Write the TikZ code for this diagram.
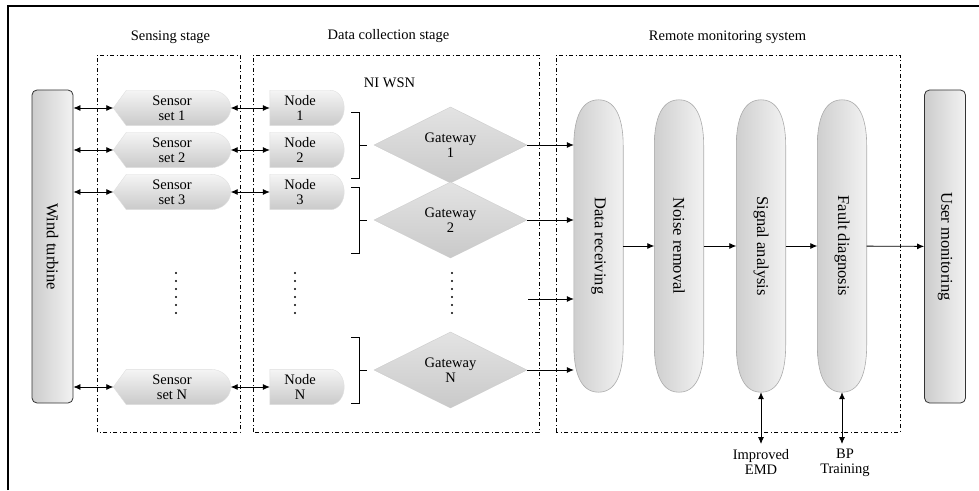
\documentclass[tikz,border=0pt]{standalone}
\usepackage{fontspec}
\setmainfont{Liberation Serif}
\usepackage{graphicx}
\usetikzlibrary{arrows.meta,shapes.geometric,backgrounds,calc}

\tikzset{
  txt/.style={font=\fontsize{14.5}{15}\selectfont, align=center, inner sep=0pt},
  stagelabel/.style={font=\fontsize{14.5}{16}\selectfont, anchor=base},
  stagebox/.style={dash pattern=on 4pt off 2.5pt on 1pt off 2.5pt, line width=0.6pt},
  link/.style={-{Latex[length=7pt,width=6pt]}, line width=0.8pt},
  dlink/.style={{Latex[length=7pt,width=6pt]}-{Latex[length=7pt,width=6pt]}, line width=0.8pt},
  endbox/.style={draw=black!80, line width=0.8pt, rounded corners=5pt, minimum width=41pt, minimum height=313pt,
    left color=gray!40, right color=gray!10, font=\fontsize{16.5}{18}\selectfont, inner sep=0pt},
  sensorfill/.style={draw=gray!25, top color=gray!8, bottom color=gray!42},
  gate/.style={txt, shape=diamond, minimum width=153pt, minimum height=60pt, draw=gray!40,
    top color=gray!22, bottom color=gray!42},
  pipe/.style={minimum width=49pt, minimum height=292pt, inner sep=0pt, font=\fontsize{16.5}{18}\selectfont},
  pipefill/.style={draw=gray!65, line width=0.6pt, left color=gray!38, right color=gray!10}
}

\begin{document}
\begin{tikzpicture}[x=1pt,y=1pt]
  \useasboundingbox (0,0) rectangle (979,490);
  % Frame
  \draw[line width=1.6pt] (8,0) -- (8,484) -- (979,484);

  % Stages
  \draw[stagebox] (97,58) rectangle (240,435);
  \draw[stagebox] (253,58) rectangle (539,435);
  \draw[stagebox] (556,58) rectangle (900,435);
  \node[stagelabel] (lsense) at (170.5,449) {Sensing stage};
  \node[stagelabel] (lcollect) at (388.5,450) {Data collection stage};
  \node[stagelabel] (lremote) at (727.5,449) {Remote monitoring system};
  \node[stagelabel] (lwsn) at (389.5,402) {NI WSN};

  % End boxes
  \node[endbox] (wt) at (52.5,243.5) {\rotatebox{-90}{Wind turbine}};
  \node[endbox] (um) at (945,243.5) {\rotatebox{-90}{User monitoring}};

  % Processing chain
  \foreach \p/\x/\t in {dr/598.5/Data receiving, nr/679/Noise removal, sa/761/Signal analysis, fd/842/Fault diagnosis} {
    \node[pipe] (\p) at (\x,244) {\rotatebox{-90}{\t}};
    \begin{scope}[on background layer]
      \path[pipefill] ($(\p.north west)+(0,-46)$) to[out=90,in=180] (\p.north) to[out=0,in=90] ($(\p.north east)+(0,-46)$)
        -- ($(\p.south east)+(0,48)$) to[out=-90,in=0] (\p.south) to[out=180,in=-90] ($(\p.south west)+(0,48)$) -- cycle;
    \end{scope}
  }
  \draw[link] (dr) -- (nr);
  \draw[link] (nr) -- (sa);
  \draw[link] (sa) -- (fd);
  \draw[link] (fd) -- (um);

  % Sensors and nodes
  \foreach \n/\y in {1/382, 2/340, 3/298, N/103} {
    \node[txt, minimum width=117pt, minimum height=35pt] (s\n) at (172,\y) {Sensor\\set \n};
    \node[txt, minimum width=60pt, minimum height=35pt] (n\n) at (300,\y) {Node\\\n};
    \begin{scope}[on background layer]
      \path[sensorfill] (s\n.west) -- ($(s\n.north west)+(13,0)$) -- ($(s\n.north east)+(-20,0)$) to[out=0,in=90] (s\n.east)
        to[out=-90,in=0] ($(s\n.south east)+(-20,0)$) -- ($(s\n.south west)+(13,0)$) -- cycle;
      \path[sensorfill] (n\n.north west) -- (n\n.north east) to[out=0,in=90] ($(n\n.east)+(14,0)$)
        to[out=-90,in=0] (n\n.south east) -- (n\n.south west) -- cycle;
    \end{scope}
    \draw[dlink] (wt.east |- s\n) -- (s\n.west);
    \draw[dlink] (s\n.east) -- (n\n.west);
  }

  % Gateways
  \foreach \g/\y in {1/345, 2/270, N/120} {
    \node[gate] (g\g) at (450.5,\y) {Gateway\\\g};
    \draw[line width=0.8pt] (351,\y+33) -- (359,\y+33) -- (359,\y-33) -- (351,\y-33) (359,\y) -- (367,\y);
    \draw[link] (g\g.east) -- (g\g.east -| dr.west);
  }
  \coordinate (gmore) at (528,191);
  \draw[link] (gmore) -- (gmore -| dr.west);

  % Dots
  \foreach \x in {176, 295, 452}
    \foreach \k in {0,...,5}
      \fill (\x,177+8*\k) circle (1.2pt);

  % Methods
  \node[txt, anchor=north] (emd) at (761,41) {Improved\\EMD};
  \node[txt, anchor=north] (bp) at (845,41) {BP\\Training};
  \draw[dlink, shorten >=5pt] (sa.south) -- (sa.south |- emd.north);
  \draw[dlink, shorten >=5pt] (fd.south) -- (fd.south |- bp.north);
\end{tikzpicture}
\end{document}
